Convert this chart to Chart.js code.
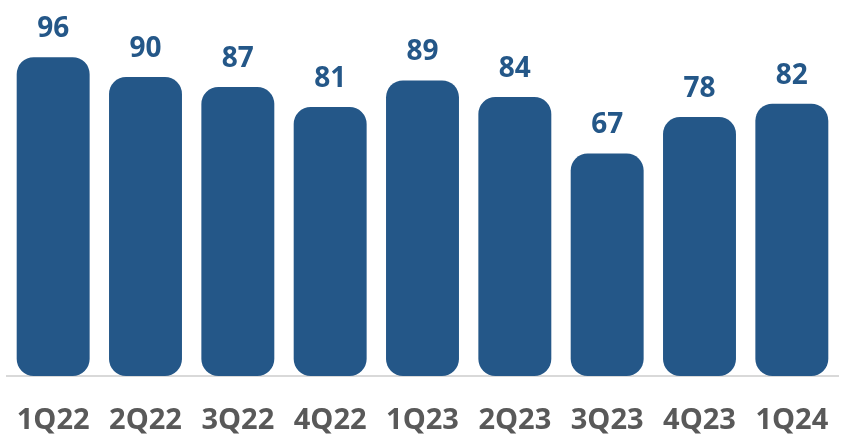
<!DOCTYPE html>
<html>
<head>
<meta charset="utf-8">
<script src="https://cdn.jsdelivr.net/npm/chart.js@4/dist/chart.umd.min.js"></script>
<style>
  html, body { margin: 0; padding: 0; background: #ffffff; }
  #wrap { width: 846px; height: 435px; position: relative; }
</style>
</head>
<body>
<div id="wrap"><canvas id="chart"></canvas></div>
<script>
// --- data ---
const quarters = ['1Q22', '2Q22', '3Q22', '4Q22', '1Q23', '2Q23', '3Q23', '4Q23', '1Q24'];
const values = [96, 90, 87, 81, 89, 84, 67, 78, 82];

const BAR_BLUE = '#245788';
const TICK_GREY = '#595959';
const FONT = '"Open Sans", "Noto Sans", sans-serif';

// value labels sitting above each bar
const valueLabels = {
    id: 'valueLabels',
    afterDatasetsDraw(chart) {
        const ctx = chart.ctx;
        const meta = chart.getDatasetMeta(0);
        ctx.save();
        ctx.font = 'bold 28px ' + FONT;
        ctx.fillStyle = BAR_BLUE;
        ctx.textAlign = 'center';
        ctx.textBaseline = 'middle';
        meta.data.forEach((bar, i) => {
            ctx.fillText(values[i], bar.x, bar.y - 28);
        });
        ctx.restore();
    }
};

new Chart(document.getElementById('chart').getContext('2d'), {
    type: 'bar',
    data: {
        labels: quarters,
        datasets: [{
            data: values,
            backgroundColor: BAR_BLUE,
            borderRadius: 17,
            borderSkipped: false,
            categoryPercentage: 0.79,
            barPercentage: 1
        }]
    },
    options: {
        responsive: true,
        maintainAspectRatio: false,
        animation: false,
        layout: { padding: { left: 7, right: 8, top: 0, bottom: 0 } },
        plugins: { legend: { display: false }, tooltip: { enabled: false } },
        scales: {
            y: { display: false, min: 0, max: 113.2 },
            x: {
                grid: { display: false, drawTicks: false },
                border: { display: true, color: '#d9d9d9', width: 2 },
                afterFit(scale) {
                    // fixed axis band, and no extra side room for the wide end labels
                    scale.height = 59;
                    scale.paddingLeft = 0;
                    scale.paddingRight = 0;
                },
                ticks: {
                    color: TICK_GREY,
                    font: { family: FONT, size: 29, weight: 'bold' },
                    padding: 27
                }
            }
        }
    },
    plugins: [valueLabels]
});
</script>
</body>
</html>
